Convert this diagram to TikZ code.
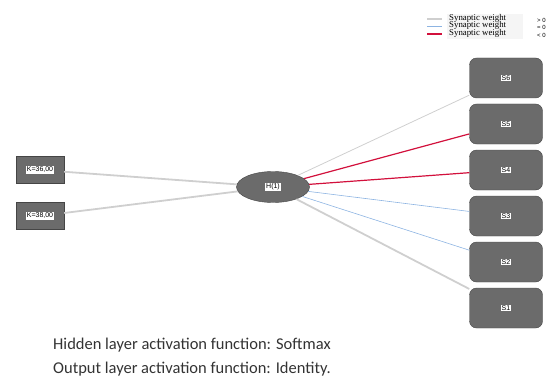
\documentclass[tikz,border=0pt]{standalone}
\usepackage{fontspec}
\setmainfont{Liberation Serif}
\setsansfont{Liberation Sans}
\newfontfamily\captfont{Carlito}
\definecolor{boxgray}{HTML}{6B6B6B}
\definecolor{edgegray}{HTML}{454545}
\definecolor{wpos}{HTML}{CFCFCF}
\definecolor{wzero}{HTML}{8DB4E2}
\definecolor{wneg}{HTML}{D2103C}
\tikzset{
	lab/.style={fill=white, inner sep=0.8pt, font=\sffamily\fontsize{7}{7}\selectfont},
	inbox/.style={draw=edgegray, fill=boxgray, minimum width=48pt, minimum height=27pt, inner sep=0pt},
	outbox/.style={draw=edgegray, fill=boxgray, rounded corners=7pt, minimum width=73pt, minimum height=40pt, inner sep=0pt},
	hidnode/.style={draw=edgegray, fill=boxgray, ellipse, minimum width=73pt, minimum height=31pt, inner sep=0pt},
}
\usetikzlibrary{shapes.geometric}
\begin{document}
\begin{tikzpicture}[x=1pt, y=-1pt]
	\useasboundingbox (0,0) rectangle (556,385);
	% legend
	\fill[gray!8] (447,14) rectangle (523,39);
	\foreach \yy\cc\ss in {19/wpos/{> 0},26.5/wzero/{= 0},34/wneg/{< 0}}{
		\draw[\cc, line width=1.6pt] (427,\yy) -- (442,\yy);
		\node[anchor=west, inner sep=0pt, font=\fontsize{8.8}{8}\selectfont] at (449,\yy-1) {Synaptic weight};
		\node[anchor=west, inner sep=0pt, font=\sffamily\fontsize{6}{6}\selectfont] at (537,\yy+1) {\ss};
	}
	% nodes
	\node[hidnode] (h1) at (273,187) {};
	\node[lab] at (h1) {H(1)};
	\node[inbox] (k1) at (40,170) {};
	\node[lab] at (k1) {K=36,00};
	\node[inbox] (k2) at (40,216) {};
	\node[lab] at (k2) {K=38,00};
	\foreach \i in {1,...,6}{
		\node[outbox] (s\i) at (506,354-46*\i) {};
		\node[lab] at (s\i) {S\i};
	}
	% connectors
	\draw[wpos, line width=1.8pt] (k1) -- (h1);
	\draw[wpos, line width=1.8pt] (k2) -- (h1);
	\draw[wpos, line width=0.8pt] (h1) -- (s6);
	\draw[wneg, line width=1.2pt] (h1) -- (s5);
	\draw[wneg, line width=1.2pt] (h1) -- (s4);
	\draw[wzero, line width=0.6pt] (h1) -- (s3);
	\draw[wzero, line width=0.6pt] (h1) -- (s2);
	\draw[wpos, line width=1.8pt] (h1) -- (s1);
	% caption
	\node[anchor=west, inner sep=0pt, font=\captfont\fontsize{16.5}{18}\selectfont, text=black!80] (cap1) at (53,345) {Hidden layer activation function: Softmax};
	\node[anchor=west, inner sep=0pt, font=\captfont\fontsize{16.5}{18}\selectfont, text=black!80] (cap2) at (53,369) {Output layer activation function: Identity.};
\end{tikzpicture}
\end{document}
